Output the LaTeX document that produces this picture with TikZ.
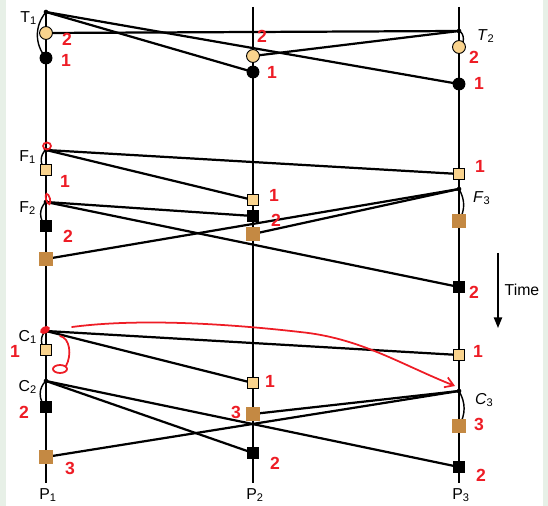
\documentclass[tikz,border=0pt]{standalone}
\usepackage{fontspec}
\setmainfont{Liberation Sans}
\usetikzlibrary{arrows.meta,positioning}

\begin{document}
\begin{tikzpicture}[
    x={(0.03cm,0cm)}, y={(0cm,-0.03cm)},
    every node/.style={font=\fontsize{13.5}{15}\selectfont},
    procline/.style={line width=1.3pt},
    msgline/.style={line width=1.9pt},
    localarc/.style={line width=1.2pt},
    sendpt/.style={circle, fill=black, minimum size=4pt, inner sep=0pt},
    rcvcircle/.style={circle, draw=black, line width=0.8pt, fill=marklight, minimum size=11pt, inner sep=0pt},
    rcvdot/.style={circle, fill=black, minimum size=11pt, inner sep=0pt},
    lightsq/.style={rectangle, draw=black, line width=0.9pt, fill=marklight, minimum size=9pt, inner sep=0pt},
    blacksq/.style={rectangle, fill=black, minimum size=10pt, inner sep=0pt},
    brownsq/.style={rectangle, fill=markbrown, minimum size=12pt, inner sep=0pt},
    hand/.style={text=handred, font=\fontsize{15}{15}\selectfont\bfseries},
    handline/.style={handred, line width=1.5pt, line cap=round},
  ]
    \definecolor{marklight}{HTML}{F9D38D}
    \definecolor{markbrown}{HTML}{C48943}
    \definecolor{handred}{HTML}{EE1C25}
    \definecolor{sidegreen}{HTML}{E7F0E7}

    % ============ frame ============
    \useasboundingbox (0,0) rectangle (548,506);
    \fill[white] (0,0) rectangle (548,506);
    \fill[sidegreen] (0,0) rectangle (6,506);
    \fill[sidegreen] (543,0) rectangle (548,506);

    % ============ process lines ============
    \foreach \x/\t/\n in {46/12/1, 253/7/2, 459/7/3}{
      \coordinate (top\n) at (\x,\t);
      \coordinate (bot\n) at (\x,483);
      \draw[procline] (top\n) -- (bot\n);
      \node (lblP\n) at (\x+2,495) {P\textsubscript{\n}};
    }

    % ============ events ============
    \coordinate (T1) at (46,12);
    \coordinate (T2) at (459,31);
    \coordinate (F1) at (46,150);
    \coordinate (F2) at (46,202);
    \coordinate (F3) at (459,189);
    \coordinate (C1) at (46,331);
    \coordinate (C2) at (46,381);
    \coordinate (C3) at (459,391);

    % receipts, named by process and source
    \coordinate (p1T2) at (46,33);
    \coordinate (p1T1) at (46,58);
    \coordinate (p2T2) at (253,56);
    \coordinate (p2T1) at (253,72);
    \coordinate (p3T2) at (459,47);
    \coordinate (p3T1) at (459,84);

    \coordinate (p1F1) at (46,170);
    \coordinate (p1F2) at (46,226);
    \coordinate (p1F3) at (46,259);
    \coordinate (p2F1) at (253,200);
    \coordinate (p2F2) at (253,216);
    \coordinate (p2F3) at (253,234);
    \coordinate (p3F1) at (459,174);
    \coordinate (p3F3) at (459,221);
    \coordinate (p3F2) at (459,287);

    \coordinate (p1C1) at (46,350);
    \coordinate (p1C2) at (46,407);
    \coordinate (p1C3) at (46,457);
    \coordinate (p2C1) at (253,383);
    \coordinate (p2C3) at (253,414);
    \coordinate (p2C2) at (253,453);
    \coordinate (p3C1) at (459,355);
    \coordinate (p3C3) at (459,426);
    \coordinate (p3C2) at (459,467);

    % ============ messages ============
    \foreach \s/\r in {T1/p2T1, T1/p3T1, T2/p1T2, T2/p2T2,
                       F1/p2F1, F1/p3F1, F2/p2F2, F2/p3F2, F3/p1F3, F3/p2F3,
                       C1/p2C1, C1/p3C1, C2/p2C2, C2/p3C2, C3/p1C3, C3/p2C3}{
      \draw[msgline] (\s) -- (\r);
    }

    % local arcs
    \draw[localarc] (T1) to[bend right=40] (p1T1);
    \draw[localarc] (F1) to[bend right=55] (p1F1);
    \draw[localarc] (F2) to[bend right=50] (p1F2);
    \draw[localarc] (C1) to[bend right=55] (p1C1);
    \draw[localarc] (C2) to[bend right=50] (p1C2);
    \draw[localarc] (T2) to[bend left=70] (p3T2);
    \draw[localarc] (F3) to[bend left=30] (p3F3);
    \draw[localarc] (C3) to[bend left=30] (p3C3);

    % ============ markers ============
    \foreach \e in {T1,T2,F1,F2,F3,C1,C2,C3}{
      \node[sendpt] (d\e) at (\e) {};
    }
    \foreach \r in {p1T2,p2T2,p3T2}{
      \node[rcvcircle] (m\r) at (\r) {};
    }
    \foreach \r in {p1T1,p2T1,p3T1}{
      \node[rcvdot] (m\r) at (\r) {};
    }
    \foreach \r in {p1F1,p2F1,p3F1,p1C1,p2C1,p3C1}{
      \node[lightsq] (m\r) at (\r) {};
    }
    \foreach \r in {p1F2,p2F2,p3F2,p1C2,p2C2,p3C2}{
      \node[blacksq] (m\r) at (\r) {};
    }
    \foreach \r in {p1F3,p2F3,p3F3,p1C3,p2C3,p3C3}{
      \node[brownsq] (m\r) at (\r) {};
    }

    % ============ labels ============
    \node[anchor=east] (lblT1) at (41,18) {T\textsubscript{1}};
    \node[anchor=east] (lblF1) at (40,157) {F\textsubscript{1}};
    \node[anchor=east] (lblF2) at (40,208) {F\textsubscript{2}};
    \node[anchor=east] (lblC1) at (41,337) {C\textsubscript{1}};
    \node[anchor=east] (lblC2) at (41,387) {C\textsubscript{2}};
    \node[anchor=west] (lblT2) at (473,36) {\textit{T}\textsubscript{2}};
    \node[anchor=west] (lblF3) at (469,198) {\textit{F}\textsubscript{3}};
    \node[anchor=west] (lblC3) at (471,400) {\textit{C}\textsubscript{3}};

    % time arrow
    \coordinate (timeTop) at (498,253);
    \coordinate (timeBot) at (498,328);
    \draw[line width=1.2pt, -{Triangle[length=9pt,width=7pt]}] (timeTop) -- (timeBot);
    \node (lblTime) at (522,290) {Time};

    % ============ hand marks ============
    \foreach \x/\y/\t [count=\i] in {67/39/2, 66/60/1, 262/36/2, 272/72/1, 474/57/2, 479/83/1,
                                     65/181/1, 68/236/2, 274/195/1, 276/220/2, 480/166/1, 474/292/2,
                                     15/351/1, 24/412/2, 70/468/3, 270/381/1, 236/412/3, 275/463/2,
                                     478/351/1, 479/424/3, 481/475/2}{
      \node[hand] (hand\i) at (\x,\y) {\t};
    }
    \draw[handline] (47,146) ellipse [x radius=3.4pt, y radius=3pt];
    \draw[handline, rotate around={15:(48,199)}] (48,199) ellipse [x radius=1.7pt, y radius=4.5pt];
    \fill[handred, rotate around={30:(45,330)}] (45,330) ellipse [x radius=4.5pt, y radius=3pt];
    \draw[handline] (60,336) .. controls (70,338) and (72,355) .. (66,366);
    \draw[handline] (60,369) ellipse [x radius=6pt, y radius=3.4pt];
    \draw[handline, -{Straight Barb[length=7pt,width=9pt]}]
      (72,327) .. controls (140,318) and (230,324) .. (300,332)
      .. controls (360,338) and (400,364) .. (455,386);
  \end{tikzpicture}
\end{document}
